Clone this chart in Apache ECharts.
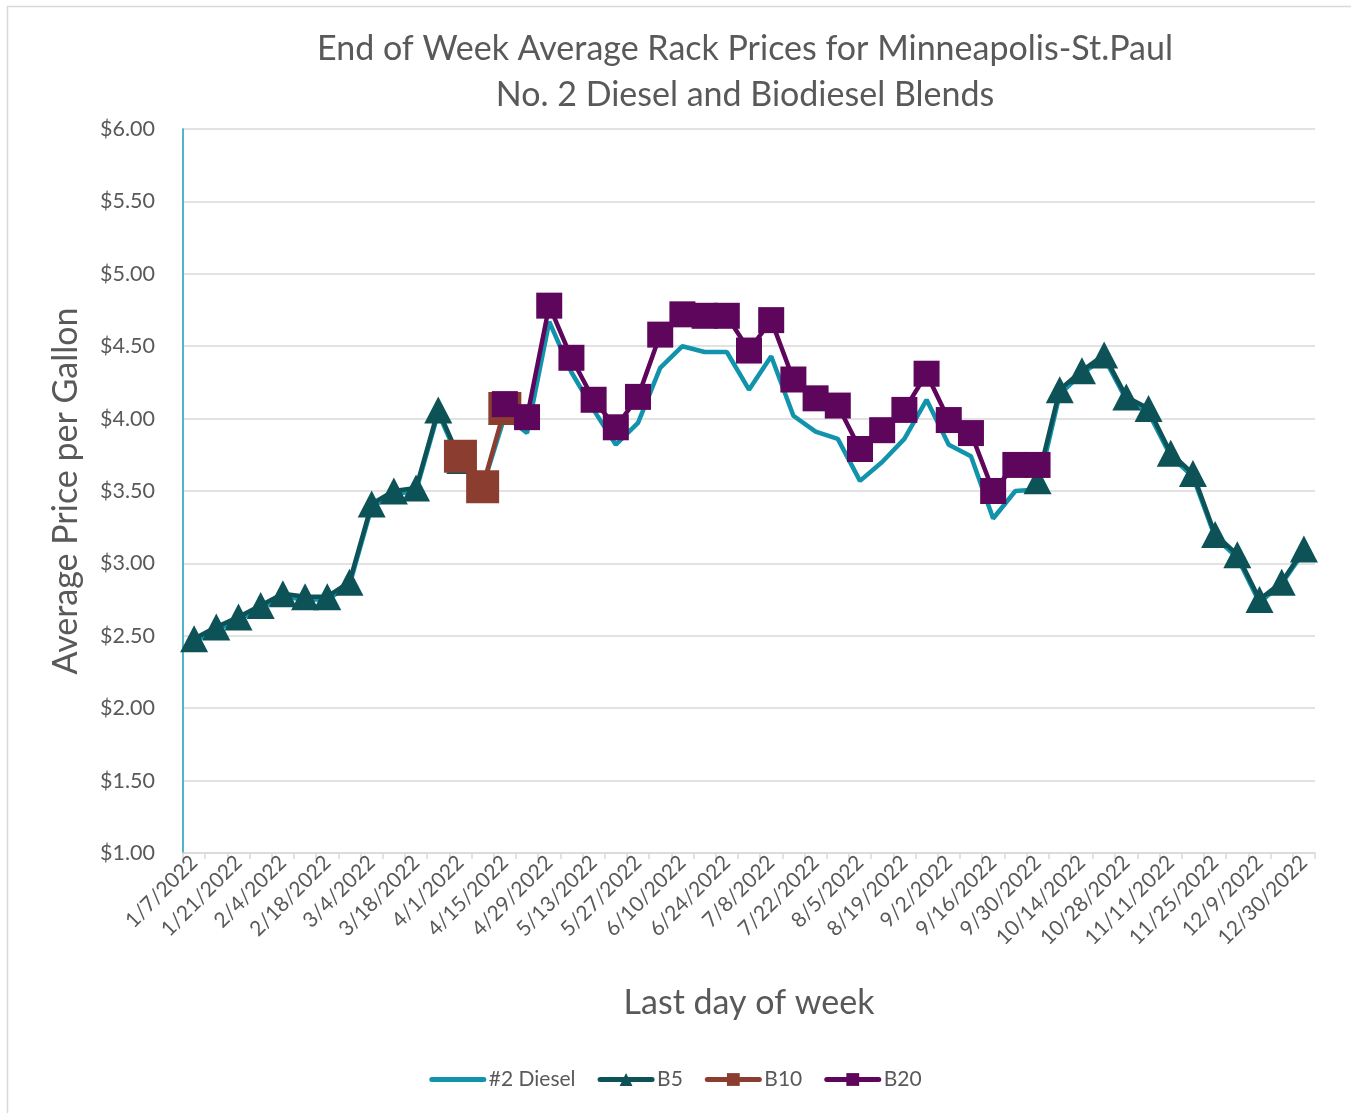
<!DOCTYPE html>
<html>
<head>
<meta charset="utf-8">
<script src="https://cdn.jsdelivr.net/npm/echarts@6/dist/echarts.min.js"></script>
<style>
html,body{margin:0;padding:0;background:#fff;}
#chart{width:1351px;height:1113px;}
</style>
</head>
<body>
<div id="chart"></div>
<script>
const categories = ["1/7/2022","1/14/2022","1/21/2022","1/28/2022","2/4/2022","2/11/2022","2/18/2022","2/25/2022","3/4/2022","3/11/2022","3/18/2022","3/25/2022","4/1/2022","4/8/2022","4/15/2022","4/22/2022","4/29/2022","5/6/2022","5/13/2022","5/20/2022","5/27/2022","6/3/2022","6/10/2022","6/17/2022","6/24/2022","7/1/2022","7/8/2022","7/15/2022","7/22/2022","7/29/2022","8/5/2022","8/12/2022","8/19/2022","8/26/2022","9/2/2022","9/9/2022","9/16/2022","9/23/2022","9/30/2022","10/7/2022","10/14/2022","10/21/2022","10/28/2022","11/4/2022","11/11/2022","11/18/2022","11/25/2022","12/2/2022","12/9/2022","12/16/2022","12/30/2022"];

const diesel = [2.46,2.54,2.61,2.69,2.77,2.75,2.75,2.85,3.39,3.48,3.50,4.04,3.69,3.53,4.02,3.90,4.67,4.32,4.06,3.82,3.97,4.35,4.50,4.46,4.46,4.20,4.43,4.02,3.91,3.86,3.57,3.70,3.86,4.13,3.82,3.74,3.31,3.50,3.51,4.17,4.31,4.42,4.13,4.04,3.74,3.60,3.18,3.04,2.73,2.86,3.08];

const b5 = [2.48,2.56,2.63,2.71,2.79,2.77,2.77,2.87,3.41,3.50,3.52,4.06,3.71,null,null,null,null,null,null,null,null,null,null,null,null,null,null,null,null,null,null,null,null,null,null,null,null,null,3.57,4.20,4.33,4.44,4.15,4.07,3.76,3.62,3.20,3.06,2.75,2.87,3.10];

const b10 = [null,null,null,null,null,null,null,null,null,null,null,null,3.74,3.53,4.07,null,null,null,null,null,null,null,null,null,null,null,null,null,null,null,null,null,null,null,null,null,null,null,null,null,null,null,null,null,null,null,null,null,null,null,null];

const b20 = [null,null,null,null,null,null,null,null,null,null,null,null,null,null,4.10,4.01,4.78,4.42,4.13,3.94,4.15,4.58,4.72,4.71,4.71,4.47,4.68,4.27,4.14,4.09,3.79,3.92,4.06,4.31,3.99,3.90,3.50,3.68,3.68,null,null,null,null,null,null,null,null,null,null,null,null];

const seriesNames = ["#2 Diesel","B5","B10","B20"];
const titleLines = ["End of Week Average Rack Prices for Minneapolis-St.Paul","No. 2 Diesel and Biodiesel Blends"];
const yAxisName = "Average Price per Gallon";
const xAxisName = "Last day of week";

const FONT = "Lato, 'Open Sans', sans-serif";
const GREY = "#595959";
const C_DIESEL = "#1093ab";
const C_B5 = "#0d5257";
const C_B10 = "#8b3e2f";
const C_B20 = "#5d065c";

const chart = echarts.init(document.getElementById('chart'), null, {renderer:'canvas'});
chart.setOption({
  backgroundColor: '#ffffff',
  animation: false,
  textStyle: {fontFamily: FONT},
  title: {
    text: titleLines.join('\n'),
    left: 740,
    top: 21,
    textAlign: 'center',
    textStyle: {fontFamily: FONT, fontSize: 34, fontWeight: 'normal', color: GREY, lineHeight: 46}
  },
  graphic: [{
    type: 'rect', silent: true,
    shape: {x: 7.5, y: 6.5, width: 1400, height: 1200},
    style: {fill: 'none', stroke: '#d9d9d9', lineWidth: 1.5}
  }],
  legend: {
    data: [
      {name: seriesNames[0], itemStyle: {opacity: 0}},
      {name: seriesNames[1]},
      {name: seriesNames[2]},
      {name: seriesNames[3]}
    ],
    bottom: 18,
    left: 'center',
    itemWidth: 52,
    itemHeight: 16,
    itemGap: 22,
    lineStyle: {width: 5, cap: 'round'},
    textStyle: {fontFamily: FONT, fontSize: 21, color: GREY}
  },
  grid: {left: 183, right: 36, top: 129, bottom: 260, containLabel: false},
  xAxis: {
    type: 'category',
    data: categories,
    boundaryGap: true,
    name: xAxisName,
    nameLocation: 'middle',
    nameGap: 133,
    nameTextStyle: {fontFamily: FONT, fontSize: 34, color: GREY},
    axisLine: {show: true, lineStyle: {color: '#d9d9d9', width: 1.5}},
    axisTick: {show: true, interval: 0, length: 6, lineStyle: {color: '#d9d9d9', width: 1.5}},
    axisLabel: {interval: 1, rotate: 45, margin: 6, fontFamily: FONT, fontSize: 21, color: GREY},
    splitLine: {show: false}
  },
  yAxis: {
    type: 'value',
    min: 1, max: 6, interval: 0.5,
    name: yAxisName,
    nameLocation: 'middle',
    nameRotate: 90,
    nameGap: 100,
    nameTextStyle: {fontFamily: FONT, fontSize: 34, color: GREY},
    axisLine: {show: true, lineStyle: {color: '#1a9cb8', width: 1.5}},
    axisTick: {show: false},
    axisLabel: {margin: 28, fontFamily: FONT, fontSize: 21.5, color: GREY,
      formatter: v => '$' + v.toFixed(2)},
    splitLine: {show: true, lineStyle: {color: '#d9d9d9', width: 1.5}}
  },
  series: [
    {name: seriesNames[0], type: 'line', data: diesel, symbol: 'none', connectNulls: false,
     lineStyle: {color: C_DIESEL, width: 4.5}, itemStyle: {color: C_DIESEL}, z: 2},
    {name: seriesNames[1], type: 'line', data: b5, symbol: 'triangle', symbolSize: [28, 27], showAllSymbol: true, connectNulls: false,
     lineStyle: {color: C_B5, width: 4.5}, itemStyle: {color: C_B5}, z: 3},
    {name: seriesNames[2], type: 'line', data: b10, symbol: 'rect', symbolSize: 33, showAllSymbol: true, connectNulls: false,
     lineStyle: {color: C_B10, width: 4.5}, itemStyle: {color: C_B10}, z: 4},
    {name: seriesNames[3], type: 'line', data: b20, symbol: 'rect', symbolSize: 26, showAllSymbol: true, connectNulls: false,
     lineStyle: {color: C_B20, width: 4.5}, itemStyle: {color: C_B20}, z: 5}
  ]
});
</script>
</body>
</html>
